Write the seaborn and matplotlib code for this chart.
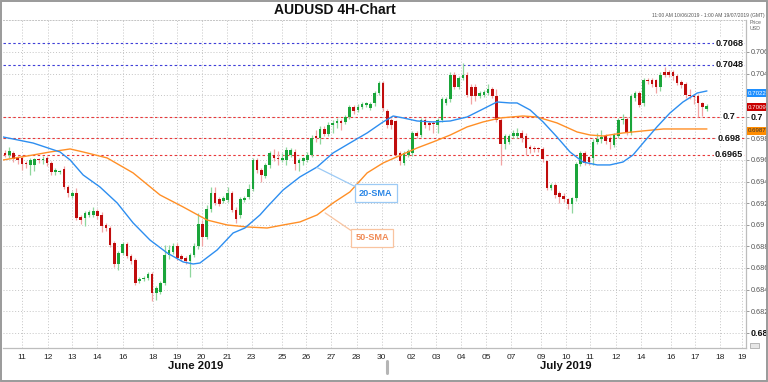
import numpy as np
import pandas as pd
import matplotlib
matplotlib.use("Agg")
import matplotlib.pyplot as plt
import matplotlib.transforms as mtransforms
from matplotlib.patches import Rectangle
from matplotlib.lines import Line2D
import seaborn as sns

# ---------------- data (prices in pips: price * 10000) ----------------
opens = [6966,6965,6966,6962,6962,6957,6955,6955,6961,6960,
         6962,6957,6949,6949,6952,6935,6927,6929,6907,6906,
         6909,6909,6913,6909,6900,6897,6883,6864,6874,6882,
         6871,6867,6848,6850,6851,6854,6837,6838,6846,6872,
         6875,6880,6871,6869,6866,6872,6880,6901,6889,6915,
         6929,6924,6922,6923,6929,6914,6909,6923,6926,6933,
         6960,6951,6945,6955,6965,6962,6960,6960,6965,6967,
         6957,6959,6960,6965,6982,6980,6989,6984,6992,6994,
         6996,6995,7000,7009,7006,7009,7011,7008,7013,7022,
         7031,7005,6997,6996,6966,6957,6965,6966,6985,6983,
         6997,6994,6994,6992,6997,7013,7016,7039,7028,7036,
         7039,7028,7028,7019,7020,7022,7026,7019,6997,6975,
         6977,6982,6982,6985,6982,6972,6971,6971,6970,6959,
         6934,6937,6929,6927,6924,6919,6925,6956,6966,6963,
         6962,6977,6979,6982,6980,6974,6982,6997,6998,6985,
         7017,7022,7013,7034,7034,7034,7028,7041,7041,7041,
         7038,7032,7030,7020,7019,7019,7013,7007]
highs = [6969,6972,6968,6964,6964,6959,6962,6962,6962,6964,
         6964,6959,6953,6951,6954,6937,6931,6934,6909,6913,
         6914,6916,6915,6912,6902,6899,6885,6876,6884,6884,
         6873,6869,6852,6853,6856,6856,6843,6848,6881,6881,
         6883,6883,6873,6871,6874,6883,6911,6904,6918,6935,
         6935,6926,6927,6935,6931,6916,6926,6927,6938,6962,
         6962,6953,6957,6968,6970,6968,6966,6972,6971,6970,
         6962,6963,6967,6983,6988,6991,6991,6995,6997,6999,
         6998,7002,7011,7011,7012,7014,7014,7014,7024,7033,
         7033,7007,6999,6997,6968,6968,6970,6987,6987,6999,
         6999,6996,6996,6999,7018,7018,7041,7041,7038,7050,
         7041,7030,7030,7024,7025,7030,7028,7026,6999,6984,
         6984,6988,6990,6988,6985,6974,6973,6972,6972,6960,
         6939,6939,6931,6929,6925,6926,6958,6968,6968,6964,
         6979,6985,6988,6984,6982,6985,6999,7003,7000,7021,
         7024,7024,7036,7036,7036,7035,7041,7046,7043,7043,
         7040,7034,7032,7026,7021,7021,7014,7012]
lows = [6963,6962,6958,6956,6951,6953,6946,6950,6957,6956,
        6954,6946,6946,6947,6933,6926,6925,6904,6901,6899,
        6907,6907,6905,6893,6894,6879,6861,6858,6872,6869,
        6864,6844,6846,6848,6849,6829,6830,6836,6844,6868,
        6873,6867,6866,6864,6852,6870,6878,6880,6887,6912,
        6918,6917,6920,6921,6912,6902,6906,6921,6924,6931,
        6948,6940,6943,6953,6959,6955,6958,6955,6963,6951,
        6950,6955,6958,6963,6977,6975,6982,6982,6985,6990,
        6988,6993,6998,7003,7004,7007,7009,7006,7010,7020,
        7005,6990,6989,6963,6955,6955,6963,6964,6980,6981,
        6990,6988,6985,6985,6995,7011,7014,7026,7026,7034,
        7018,7012,7015,7017,7018,7020,7017,6995,6955,6970,
        6975,6980,6980,6977,6965,6966,6967,6967,6958,6932,
        6932,6925,6920,6921,6915,6911,6922,6954,6955,6955,
        6955,6975,6976,6975,6970,6972,6980,6993,6983,6983,
        7015,7009,7010,7030,7028,7022,7024,7037,7037,7034,
        7029,7027,7017,7016,7012,7000,7001,7005]
closes = [6965,6968,6961,6960,6956,6956,6960,6961,6960,6961,
          6957,6949,6951,6950,6935,6929,6929,6906,6904,6911,
          6912,6913,6908,6899,6897,6881,6864,6874,6882,6871,
          6866,6846,6850,6851,6854,6837,6841,6846,6872,6877,
          6880,6869,6868,6866,6872,6880,6901,6889,6915,6929,
          6920,6919,6925,6929,6914,6905,6924,6925,6933,6960,
          6951,6946,6955,6966,6962,6961,6962,6969,6969,6956,
          6960,6962,6965,6980,6980,6989,6984,6992,6994,6996,
          6994,7000,7009,7005,7009,7012,7013,7012,7022,7031,
          7008,6992,6992,6965,6959,6966,6968,6985,6982,6997,
          6992,6992,6993,6997,7016,7016,7039,7028,7036,7039,
          7020,7019,7019,7022,7023,7026,7019,6997,6975,6982,
          6982,6985,6985,6980,6971,6970,6970,6970,6961,6934,
          6937,6928,6926,6924,6919,6925,6956,6966,6957,6958,
          6977,6979,6981,6978,6977,6983,6997,6998,6985,7019,
          7022,7011,7034,7033,7030,7028,7039,7039,7039,7038,
          7031,7029,7020,7019,7018,7013,7009,7010]

sma20_bar = [-0.48, 6.67, 13.1, 15.5, 18.6, 22.6, 26.7, 30.5, 34.5, 38.6, 42.4, 44.8,
             46.4, 50.5, 54.3, 57.1, 60.7, 62.4, 66.2, 70.2, 74.3, 78.1, 82.1, 86.2,
             90.0, 92.4, 94.8, 98.1, 101.9, 106.0, 110.0, 113.8, 117.1, 120.2, 121.9,
             125.0, 128.1, 131.4, 134.5, 137.6, 141.0, 144.0, 147.1, 149.5, 151.9,
             155.2, 158.3, 161.4, 164.8, 167.1]
sma20_val = [0.69813, 0.69757, 0.69674, 0.69600, 0.69461, 0.69350, 0.69202, 0.69017,
             0.68859, 0.68739, 0.68656, 0.68637, 0.68646, 0.68767, 0.68924, 0.68970,
             0.69091, 0.69165, 0.69322, 0.69443, 0.69535, 0.69665, 0.69757, 0.69850,
             0.69952, 0.70007, 0.69989, 0.69961, 0.69952, 0.69961, 0.69998, 0.70072,
             0.70137, 0.70128, 0.70128, 0.70063, 0.69952, 0.69813, 0.69674, 0.69581,
             0.69554, 0.69554, 0.69581, 0.69646, 0.69757, 0.69906, 0.70035, 0.70137,
             0.70220, 0.70239]
sma50_bar = [-0.48, 6.67, 10.7, 15.5, 18.6, 24.3, 30.5, 36.9, 42.4, 48.1, 52.9, 57.6,
             62.4, 66.2, 70.2, 74.3, 78.1, 82.1, 86.2, 90.0, 94.3, 98.1, 101.9, 106.0,
             110.0, 113.8, 117.9, 123.3, 126.7, 131.4, 136.2, 139.3, 142.4, 147.1,
             151.9, 156.7, 163.1, 167.1]
sma50_val = [0.69600, 0.69646, 0.69674, 0.69702, 0.69674, 0.69619, 0.69480, 0.69276,
             0.69165, 0.69044, 0.68998, 0.68980, 0.68970, 0.68998, 0.69026, 0.69091,
             0.69202, 0.69304, 0.69480, 0.69572, 0.69646, 0.69711, 0.69767, 0.69831,
             0.69906, 0.69952, 0.69989, 0.70007, 0.69998, 0.69943, 0.69859, 0.69831,
             0.69822, 0.69850, 0.69869, 0.69887, 0.69887, 0.69887]

tick_pos = [4.1, 10.2, 16.0, 22.0, 28.0, 35.2, 40.9, 46.8, 52.8, 58.7, 65.9, 71.7,
            77.6, 83.7, 89.7, 96.7, 102.6, 108.6, 114.5, 120.5, 127.6, 133.5, 139.3,
            145.4, 151.4, 158.5, 164.3, 170.2, 175.5]
tick_labels = ['11', '12', '13', '14', '16', '18', '19', '20', '21', '23', '25', '26',
               '27', '28', '30', '02', '03', '04', '05', '07', '09', '10', '11', '12',
               '14', '16', '17', '18', '19']

blue_levels = [0.7068, 0.7048]
red_levels = [0.7, 0.698, 0.6965]
tags = [0.7022, 0.7009, 0.6987]

# ---------------- style ----------------
sns.set_style("white")
plt.rcParams['font.family'] = ['Liberation Sans', 'DejaVu Sans']

fig = plt.figure(figsize=(7.68, 3.82), dpi=100)
ax = fig.add_axes([3 / 768, 1 - 348 / 382, (746 - 3) / 768, (348 - 20) / 382])

o = np.array(opens) / 10000
h = np.array(highs) / 10000
l = np.array(lows) / 10000
c = np.array(closes) / 10000
bars = np.arange(len(o))
up = c >= o

GREEN, RED = '#1aa53a', '#c00d0d'
GWICK, RWICK = '#8fd69d', '#f2a3a3'

ax.vlines(bars[up], l[up], h[up], color=GWICK, lw=0.9, zorder=3)
ax.vlines(bars[~up], l[~up], h[~up], color=RWICK, lw=0.9, zorder=3)
body_lo = np.minimum(o, c)
body_h = np.maximum(np.abs(c - o), 0.00005)
ax.bar(bars[up], body_h[up], bottom=body_lo[up], width=0.62, color=GREEN, lw=0, zorder=4)
ax.bar(bars[~up], body_h[~up], bottom=body_lo[~up], width=0.62, color=RED, lw=0, zorder=4)

df20 = pd.DataFrame({'bar': sma20_bar, 'value': sma20_val})
df50 = pd.DataFrame({'bar': sma50_bar, 'value': sma50_val})
sns.lineplot(data=df50, x='bar', y='value', ax=ax, color='#ff8f26', lw=1.0,
             estimator=None, zorder=5)
sns.lineplot(data=df20, x='bar', y='value', ax=ax, color='#2d8ef0', lw=1.0,
             estimator=None, zorder=5)

# level lines
lab_x = 172.4
for lv in blue_levels:
    ax.axhline(lv, color='#3f3fd8', ls=(0, (2.2, 2.2)), lw=0.8, zorder=2)
    ax.text(lab_x, lv, f"{lv:g}", ha='center', va='center', fontsize=6.6,
            fontweight='bold', color='#111', zorder=6,
            bbox=dict(fc='white', ec='none', pad=0.6))
for lv in red_levels:
    ax.axhline(lv, color='#e8383a', ls=(0, (2.2, 2.2)), lw=0.8, zorder=2)
    ax.text(lab_x, lv, f"{lv:g}", ha='center', va='center', fontsize=6.6,
            fontweight='bold', color='#111', zorder=6,
            bbox=dict(fc='white', ec='none', pad=0.6))

# axes
ax.set_xlim(-0.48, 176.4)
ax.set_ylim(0.67859, 0.70896)
ax.set_xlabel('')
ax.set_ylabel('')
ax.set_xticks(tick_pos)
ax.set_xticklabels(tick_labels)
yt = np.round(np.arange(0.680, 0.7061, 0.002), 3)
ax.set_yticks(yt)
# 0.702 is hidden behind the 20-SMA price tag in the reference
ax.set_yticklabels(['' if abs(v - 0.702) < 1e-9 else f"{v:g}" for v in yt])
ax.yaxis.tick_right()
ax.tick_params(axis='y', right=True, left=False, length=2.5, width=0.6, color='#888',
               labelsize=5.2, labelcolor='#555', pad=1)
ax.tick_params(axis='x', bottom=False, length=0, labelsize=6, labelcolor='#222', pad=4)
for lbl in ax.get_yticklabels():
    if lbl.get_text() in ('0.7', '0.68'):
        lbl.set_fontweight('bold')
        lbl.set_color('#111')
        lbl.set_fontsize(6.4)

ax.grid(True, ls=(0, (1, 2)), color='#c4c4c4', lw=0.7, zorder=0)
ax.spines['left'].set_visible(False)
ax.spines['top'].set_color('#c4c4c4')
ax.spines['top'].set_linestyle((0, (1, 2)))
ax.spines['top'].set_linewidth(0.7)
ax.spines['right'].set_color('#bdbdbd')
ax.spines['bottom'].set_color('#bdbdbd')
ax.spines['right'].set_linewidth(0.9)
ax.spines['bottom'].set_linewidth(0.9)

# price tags on the right axis
trans = mtransforms.blended_transform_factory(ax.transAxes, ax.transData)
tag_style = [('#1e8fff', 'white'), ('#c80000', 'white'), ('#ff8c00', '#333')]
for val, (fc, tc) in zip(tags, tag_style):
    ax.text(1.003, val, f"{val:.4f}", transform=trans, ha='left', va='center',
            fontsize=4.4, color=tc, zorder=10, clip_on=False,
            bbox=dict(boxstyle='square,pad=0.22', fc=fc, ec='none'))

# SMA labels
ax.annotate("20-SMA", xy=(74.3, 0.6953), xytext=(88.3, 0.69294), ha='center', va='center',
            fontsize=6.6, fontweight='bold', color='#2a86e6', zorder=7,
            bbox=dict(boxstyle='square,pad=0.45', fc='white', ec='#9ccaf5', lw=0.9),
            arrowprops=dict(arrowstyle='-', color='#9ccaf5', lw=0.9, relpos=(0, 1),
                            shrinkA=0, shrinkB=0))
ax.annotate("50-SMA", xy=(76.2, 0.6911), xytext=(87.4, 0.68878), ha='center', va='center',
            fontsize=6.6, fontweight='bold', color='#f08a55', zorder=7,
            bbox=dict(boxstyle='square,pad=0.45', fc='white', ec='#f9c4a0', lw=0.9),
            arrowprops=dict(arrowstyle='-', color='#f9c4a0', lw=0.9, relpos=(0, 1),
                            shrinkA=0, shrinkB=0))

# figure texts
fig.text(335 / 768, 1 - 10.5 / 382, "AUDUSD 4H-Chart", ha='center', va='center',
         fontsize=10, fontweight='bold', color='#111')
fig.text(765 / 768, 1 - 15 / 382, "11:00 AM 10/06/2019 - 1:00 AM 19/07/2019 (GMT)",
         ha='right', va='center', fontsize=3.6, color='#555')
fig.text(750 / 768, 1 - 23 / 382, "Price", ha='left', va='center', fontsize=3.8, color='#666')
fig.text(750 / 768, 1 - 29 / 382, "USD", ha='left', va='center', fontsize=3.8, color='#666')
fig.text(196 / 768, 1 - 366 / 382, "June 2019", ha='center', va='center',
         fontsize=8.2, fontweight='bold', color='#111')
fig.text(566 / 768, 1 - 366 / 382, "July 2019", ha='center', va='center',
         fontsize=8.2, fontweight='bold', color='#111')
fig.add_artist(Line2D([387 / 768, 387 / 768], [1 - 361 / 382, 1 - 373 / 382],
                      color='#b5b5b5', lw=2.2))
fig.add_artist(Rectangle((750 / 768, 1 - 348 / 382), 9 / 768, 5 / 382,
                         transform=fig.transFigure, fc='#e6e6e6', ec='#888', lw=0.4))
fig.add_artist(Rectangle((0.001, 0.002), 0.998, 0.996, transform=fig.transFigure,
                         fill=False, ec='#9a9a9a', lw=1.4))

fig.savefig("out.png", dpi=100)
